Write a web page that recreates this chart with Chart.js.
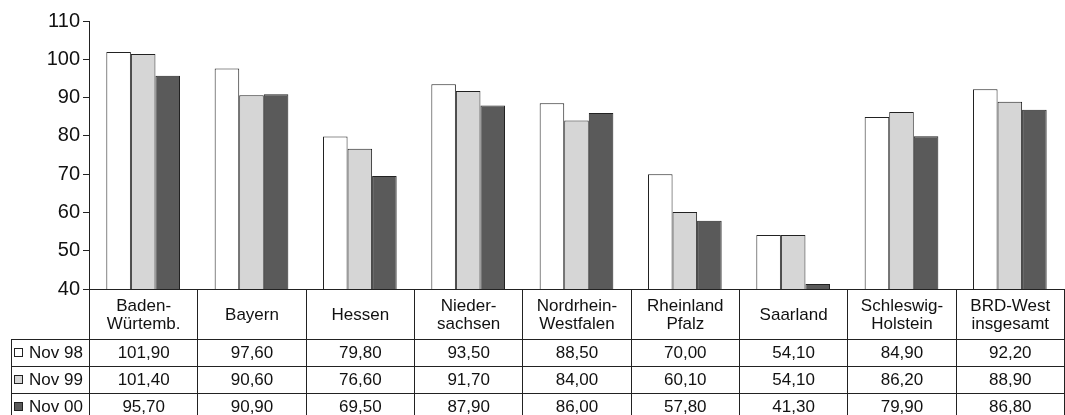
<!DOCTYPE html>
<html>
<head>
<meta charset="utf-8">
<script src="https://cdn.jsdelivr.net/npm/chart.js@4/dist/chart.umd.min.js"></script>
<style>
  html, body { margin: 0; padding: 0; background: #fff; }
  #wrap { position: relative; width: 1065px; height: 415px; overflow: hidden; }
  #dataTable {
    position: absolute; top: 289px; left: 11px;
    border-collapse: collapse; table-layout: fixed;
    font-family: "Liberation Sans", Arial, sans-serif; font-size: 17px; color: #111;
  }
  #dataTable td { border: 1px solid #222; text-align: center; padding: 0; line-height: 18px; }
  #dataTable tr.head td { height: 48px; padding-top: 1px; }
  #dataTable tr.row td { height: 26px; }
  #dataTable td.corner { border-left: none; border-top: none; }
  #dataTable td.name { text-align: left; padding-left: 2px; }
  .swatch { display: inline-block; width: 7px; height: 7px; border: 1px solid #222; margin-right: 6px; vertical-align: 1px; }
</style>
</head>
<body>
<div id="wrap">
  <canvas id="barChart" width="1065" height="415"></canvas>
  <table id="dataTable"></table>
</div>
<script>
  const categories = ["Baden-\nWürtemb.", "Bayern", "Hessen", "Nieder-\nsachsen", "Nordrhein-\nWestfalen",
                      "Rheinland\nPfalz", "Saarland", "Schleswig-\nHolstein", "BRD-West\ninsgesamt"];
  const seriesNames = ["Nov 98", "Nov 99", "Nov 00"];
  const nov98 = [101.90, 97.60, 79.80, 93.50, 88.50, 70.00, 54.10, 84.90, 92.20];
  const nov99 = [101.40, 90.60, 76.60, 91.70, 84.00, 60.10, 54.10, 86.20, 88.90];
  const nov00 = [95.70, 90.90, 69.50, 87.90, 86.00, 57.80, 41.30, 79.90, 86.80];
  const yTicks = [40, 50, 60, 70, 80, 90, 100, 110];

  const colors = ['#ffffff', '#d6d6d6', '#5a5a5a'];
  const seriesData = [nov98, nov99, nov00];

  const ctx = document.getElementById('barChart').getContext('2d');

  const barChart = new Chart(ctx, {
    type: 'bar',
    data: {
      labels: categories,
      datasets: seriesData.map((d, i) => ({
        label: seriesNames[i],
        data: d,
        backgroundColor: colors[i],
        borderColor: '#222',
        borderWidth: 1,
        borderSkipped: 'bottom',
        categoryPercentage: 0.68,
        barPercentage: 1.0
      }))
    },
    options: {
      responsive: false,
      animation: false,
      layout: { padding: { top: 21, right: 1, bottom: 126, left: 0 } },
      plugins: {
        legend: { display: false },
        tooltip: { enabled: false }
      },
      scales: {
        x: { display: false },
        y: {
          min: yTicks[0],
          max: yTicks[yTicks.length - 1],
          afterBuildTicks: (scale) => { scale.ticks = yTicks.map(v => ({ value: v })); },
          afterFit: (scale) => { scale.width = 89; },
          border: { display: true, color: '#222', width: 1 },
          grid: { drawOnChartArea: false, drawTicks: true, tickLength: 6, color: '#222' },
          ticks: {
            color: '#111',
            padding: 3,
            font: { family: 'Liberation Sans, Arial, sans-serif', size: 20 }
          }
        }
      }
    }
  });

  // data table under the bars, columns lined up with the x scale
  function fmt(v) {
    return v.toFixed(2).replace('.', ',');
  }

  function buildTable() {
    const area = barChart.chartArea;
    const colW = (area.right - area.left) / categories.length;
    const table = document.getElementById('dataTable');
    table.style.left = '11px';
    table.style.top = area.bottom + 'px';
    table.style.width = (area.right - 11) + 'px';

    let html = '<colgroup><col style="width:' + (area.left - 11) + 'px">';
    categories.forEach(() => { html += '<col style="width:' + colW + 'px">'; });
    html += '</colgroup>';

    html += '<tr class="head"><td class="corner"></td>';
    categories.forEach(c => { html += '<td>' + c.replace('\n', '<br>') + '</td>'; });
    html += '</tr>';

    seriesData.forEach((d, i) => {
      html += '<tr class="row"><td class="name"><span class="swatch" style="background:' + colors[i] + '"></span>' + seriesNames[i] + '</td>';
      d.forEach(v => { html += '<td>' + fmt(v) + '</td>'; });
      html += '</tr>';
    });
    table.innerHTML = html;
  }

  buildTable();
</script>
</body>
</html>
